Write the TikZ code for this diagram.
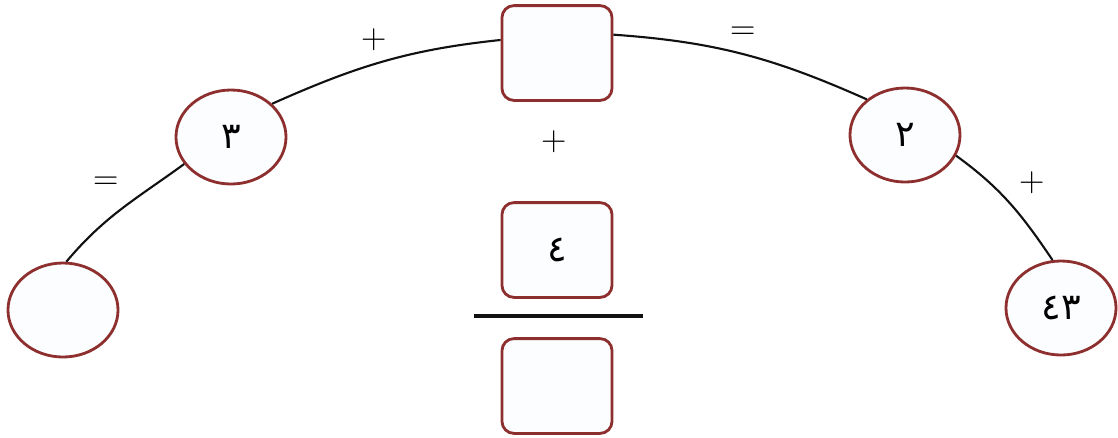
\documentclass[tikz,border=0pt]{standalone}
\usepackage{fontspec}
\usetikzlibrary{shapes.geometric,positioning,calc}
\newfontfamily\arabicfont[Script=Arabic]{DejaVu Sans}
\usepackage{xcolor}
\definecolor{qzInk}{HTML}{111111}
\definecolor{qzRim}{HTML}{8E2F2F}
\definecolor{qzFill}{HTML}{FCFDFE}
\tikzset{
  ovl/.style={ellipse, draw=qzRim, fill=qzFill, line width=2pt, minimum width=2.75cm, minimum height=2.35cm, inner sep=0pt, font=\arabicfont\fontsize{26}{30}\selectfont},
  sqr/.style={rectangle, draw=qzRim, fill=qzFill, line width=2pt, rounded corners=0.3cm, minimum width=2.75cm, minimum height=2.37cm, inner sep=0pt, font=\arabicfont\fontsize{26}{30}\selectfont},
  arc/.style={draw=qzInk, line width=1.5pt},
  sgn/.style={inner sep=0pt, font=\fontsize{25}{30}\selectfont},
}

\begin{document}
\begin{tikzpicture}[x=0.025cm, y=-0.025cm]
  \useasboundingbox (0,0) rectangle (1118,437);
  % ovals along the arc
  \node[ovl] (lft) at (63,310) {};
  \node[ovl] (thr) at (231,137) {٣};
  \node[sqr] (top) at (557,53) {};
  \node[ovl] (two) at (905,135) {٢};
  \node[ovl] (rgt) at (1061,308) {٤٣};
  % fraction in the middle
  \node[sqr] (num) at (557,250) {٤};
  \node[sqr] (den) at (557,386) {};
  \coordinate (barL) at (474,316);
  \coordinate (barR) at (643,316);
  \draw[qzInk, line width=2.8pt] (barL) -- (barR);
  % the arc
  \draw[arc] (lft.86) to[out=50, in=216] (thr.210);
  \draw[arc] (thr.39) to[out=24, in=186] (top.167);
  \draw[arc] (top.18) to[out=-4, in=156] (two.137);
  \draw[arc] (two.338) to[out=-36, in=124] (rgt.100);
  % signs
  \node[sgn] (p1) at (374,40) {+};
  \node[sgn] (e1) at (743,33) {=};
  \node[sgn] (p2) at (554,142) {+};
  \node[sgn] (e2) at (106,183) {=};
  \node[sgn] (p3) at (1032,183) {+};
\end{tikzpicture}
\end{document}
